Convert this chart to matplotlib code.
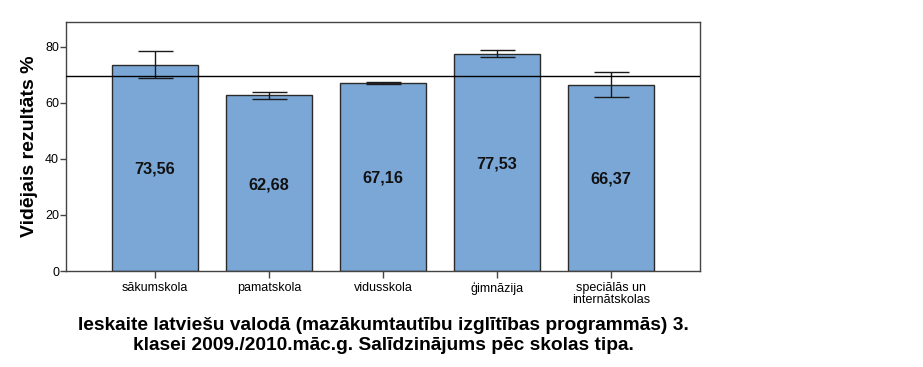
import matplotlib
matplotlib.use("Agg")
import matplotlib.pyplot as plt

categories = ["sākumskola", "pamatskola", "vidusskola", "ģimnāzija",
              "speciālās un\ninternātskolas"]
means = [73.56, 62.68, 67.16, 77.53, 66.37]
err_low = [68.8, 61.5, 66.8, 76.4, 62.0]
err_high = [78.5, 64.0, 67.6, 79.0, 71.0]
overall_mean = 69.5
y_ticks = [0, 20, 40, 60, 80]
title_lines = ["Ieskaite latviešu valodā (mazākumtautību izglītības programmās) 3.",
               "klasei 2009./2010.māc.g. Salīdzinājums pēc skolas tipa."]

plt.rcParams["font.family"] = ["Liberation Sans", "DejaVu Sans"]

fig = plt.figure(figsize=(9.23, 3.67), dpi=100)
ax = fig.add_axes([66 / 923, 1 - 271 / 367, 634 / 923, 249 / 367])

x = list(range(len(categories)))
ax.bar(x, means, width=0.755, color="#7aa7d6", edgecolor="#2a2a2a", lw=1, zorder=2)
lo = [m - l for m, l in zip(means, err_low)]
hi = [h - m for m, h in zip(means, err_high)]
ax.errorbar(x, means, yerr=[lo, hi], fmt="none", ecolor="#1a1a1a",
            elinewidth=1, capsize=12.6, capthick=1, zorder=3)
ax.axhline(overall_mean, color="black", lw=1, zorder=4)
for xi, m in zip(x, means):
    ax.text(xi, m / 2 - 0.5, f"{m:.2f}".replace(".", ","), ha="center",
            va="center", fontsize=11.7, fontweight="bold", color="#111", zorder=5)

ax.set_xlim(-0.78, 4.78)
ax.set_ylim(0, 88.9)
ax.set_yticks(y_ticks)
ax.set_xticks(x)
ax.set_xticklabels(categories, fontsize=9, linespacing=0.95)
ax.tick_params(axis="y", labelsize=9, length=4, width=1, color="#444", pad=1)
ax.tick_params(axis="x", length=5, width=1, color="#444", pad=3)
for s in ax.spines.values():
    s.set_color("#444")
    s.set_linewidth(1)
ax.set_ylabel("Vidējais rezultāts %", fontsize=14, fontweight="bold", labelpad=5)

fig.text(383 / 923, 1 - 325 / 367, title_lines[0], ha="center", va="center",
         fontsize=13.8, fontweight="bold")
fig.text(383 / 923, 1 - 345 / 367, title_lines[1], ha="center", va="center",
         fontsize=13.8, fontweight="bold")

fig.savefig("out.png", dpi=100)
